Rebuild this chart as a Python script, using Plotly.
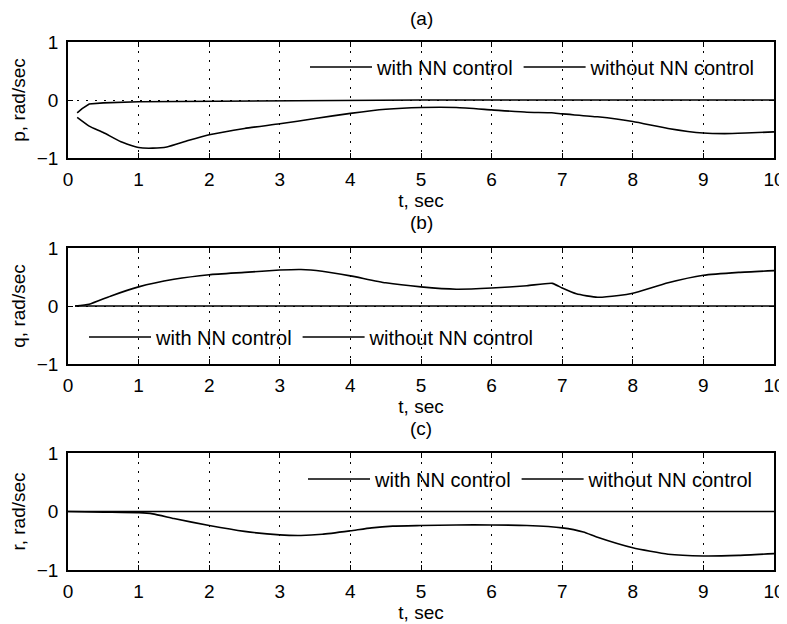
import plotly.graph_objects as go

# ---------------- data ----------------
t_p_with = [0.13, 0.2, 0.3, 0.5, 1.0, 2.0, 3.0, 4.0, 5.0, 6.0, 7.0, 8.0, 9.0, 10.0]
p_with = [-0.22, -0.15, -0.07, -0.05, -0.03, -0.02, -0.01, -0.01, 0.0, 0.0, 0.0, 0.0, 0.0, 0.0]

t_p_without = [0.13, 0.3, 0.5, 0.75, 1.0, 1.2, 1.4, 1.7, 2.0, 2.5, 3.0, 3.5, 4.0, 4.5, 5.0,
               5.5, 6.0, 6.5, 6.85, 7.0, 7.5, 8.0, 8.5, 9.0, 9.3, 9.6, 10.0]
p_without = [-0.30, -0.45, -0.56, -0.72, -0.82, -0.83, -0.81, -0.70, -0.60, -0.49, -0.41, -0.32,
             -0.23, -0.16, -0.13, -0.13, -0.17, -0.21, -0.22, -0.24, -0.29, -0.37, -0.49, -0.57,
             -0.58, -0.57, -0.55]

t_q_with = [0.1, 10.0]
q_with = [0.0, 0.0]

t_q_without = [0.1, 0.3, 0.6, 1.0, 1.5, 2.0, 2.5, 3.0, 3.3, 3.6, 4.0, 4.5, 5.0, 5.5, 6.0, 6.5,
               6.86, 7.0, 7.2, 7.5, 7.8, 8.0, 8.5, 9.0, 9.5, 10.0]
q_without = [0.0, 0.03, 0.17, 0.33, 0.46, 0.54, 0.58, 0.62, 0.63, 0.60, 0.52, 0.40, 0.33, 0.29,
             0.31, 0.35, 0.39, 0.31, 0.21, 0.15, 0.18, 0.22, 0.40, 0.53, 0.58, 0.61]

t_r_with = [0.0, 10.0]
r_with = [0.0, 0.0]

t_r_without = [0.0, 0.5, 1.0, 1.2, 1.5, 2.0, 2.5, 3.0, 3.3, 3.6, 4.0, 4.3, 4.6, 5.0, 5.5, 6.0,
               6.5, 7.0, 7.3, 7.5, 8.0, 8.5, 9.0, 9.5, 10.0]
r_without = [0.0, -0.01, -0.02, -0.04, -0.12, -0.24, -0.34, -0.40, -0.41, -0.39, -0.33, -0.28,
             -0.25, -0.24, -0.23, -0.23, -0.24, -0.28, -0.35, -0.44, -0.62, -0.73, -0.76, -0.75,
             -0.72]

x_ticks = [0, 1, 2, 3, 4, 5, 6, 7, 8, 9, 10]
y_ticks = [-1, 0, 1]
panel_titles = ["(a)", "(b)", "(c)"]
y_titles = ["p, rad/sec", "q, rad/sec", "r, rad/sec"]
x_title = "t, sec"
series_names = ["with NN control", "without NN control"]

# ---------------- figure ----------------
OFF = 8  # page body margin offset
W, H = 787 - OFF, 624 - OFF
ML, MT = 68 - OFF, 42 - OFF
MR = W - (774 - OFF)
MB = H - (570 - OFF)
PH = H - MT - MB
PW = W - ML - MR

def py(px):
    # reference-pixel y -> paper fraction
    return (H - MB - (px - OFF)) / PH

def px_x(px):
    return (px - OFF - ML) / PW

FONT = "Liberation Sans, Arial, sans-serif"
domains = [[py(158), py(42)], [py(364), py(248)], [py(570), py(453)]]

fig = go.Figure()
panels = [
    (t_p_with, p_with, t_p_without, p_without),
    (t_q_with, q_with, t_q_without, q_without),
    (t_r_with, r_with, t_r_without, r_without),
]
legend_ids = ["legend", "legend2", "legend3"]
for i, (tw, yw, tn, yn) in enumerate(panels):
    sx = "" if i == 0 else str(i + 1)
    fig.add_trace(go.Scatter(x=tw, y=yw, mode="lines", name=series_names[0],
                             line=dict(color="black", width=1.6),
                             xaxis="x" + sx, yaxis="y" + sx, legend=legend_ids[i]))
    fig.add_trace(go.Scatter(x=tn, y=yn, mode="lines", name=series_names[1],
                             line=dict(color="black", width=1.6, shape="spline", smoothing=0.5),
                             xaxis="x" + sx, yaxis="y" + sx, legend=legend_ids[i]))

axis_common = dict(
    showline=True, linecolor="black", linewidth=1.5, mirror="ticks",
    ticks="inside", ticklen=5, tickcolor="black", tickwidth=1,
    showgrid=True, gridcolor="black", gridwidth=1, griddash="2px,7px",
    zeroline=False, tickfont=dict(family=FONT, size=19, color="black"),
    automargin=False,
)

layout = dict(
    width=W, height=H, margin=dict(l=ML, r=MR, t=MT, b=MB, autoexpand=False),
    paper_bgcolor="white", plot_bgcolor="white",
    font=dict(family=FONT, size=19, color="black"),
    showlegend=True,
)
for i in range(3):
    sx = "" if i == 0 else str(i + 1)
    layout["xaxis" + sx] = dict(
        axis_common, domain=[0, 1], range=[0, 10], tickvals=x_ticks,
        anchor="y" + sx, ticklabelstandoff=3,
        title=dict(text=x_title, standoff=1, font=dict(family=FONT, size=19)),
    )
    layout["yaxis" + sx] = dict(
        axis_common, domain=domains[i], range=[-1, 1], tickvals=y_ticks,
        anchor="x" + sx, ticklabelstandoff=4,
        title=dict(text=y_titles[i], standoff=6, font=dict(family=FONT, size=19)),
    )

leg_pos = [(px_x(305), py(67)), (px_x(84), py(337)), (px_x(303), py(479))]
for i, lid in enumerate(legend_ids):
    layout[lid] = dict(
        x=leg_pos[i][0], y=leg_pos[i][1], xanchor="left", yanchor="middle",
        orientation="h", bgcolor="rgba(0,0,0,0)", borderwidth=0,
        font=dict(family=FONT, size=20, color="black"), itemwidth=62,
    )

fig.update_layout(**layout)
for i, txt in enumerate(panel_titles):
    yc = [18, 222, 428][i]
    fig.add_annotation(text=txt, x=0.5, y=py(yc), xref="paper", yref="paper",
                       xanchor="center", yanchor="middle", showarrow=False,
                       font=dict(family=FONT, size=19, color="black"))

fig.write_html("out.html")
